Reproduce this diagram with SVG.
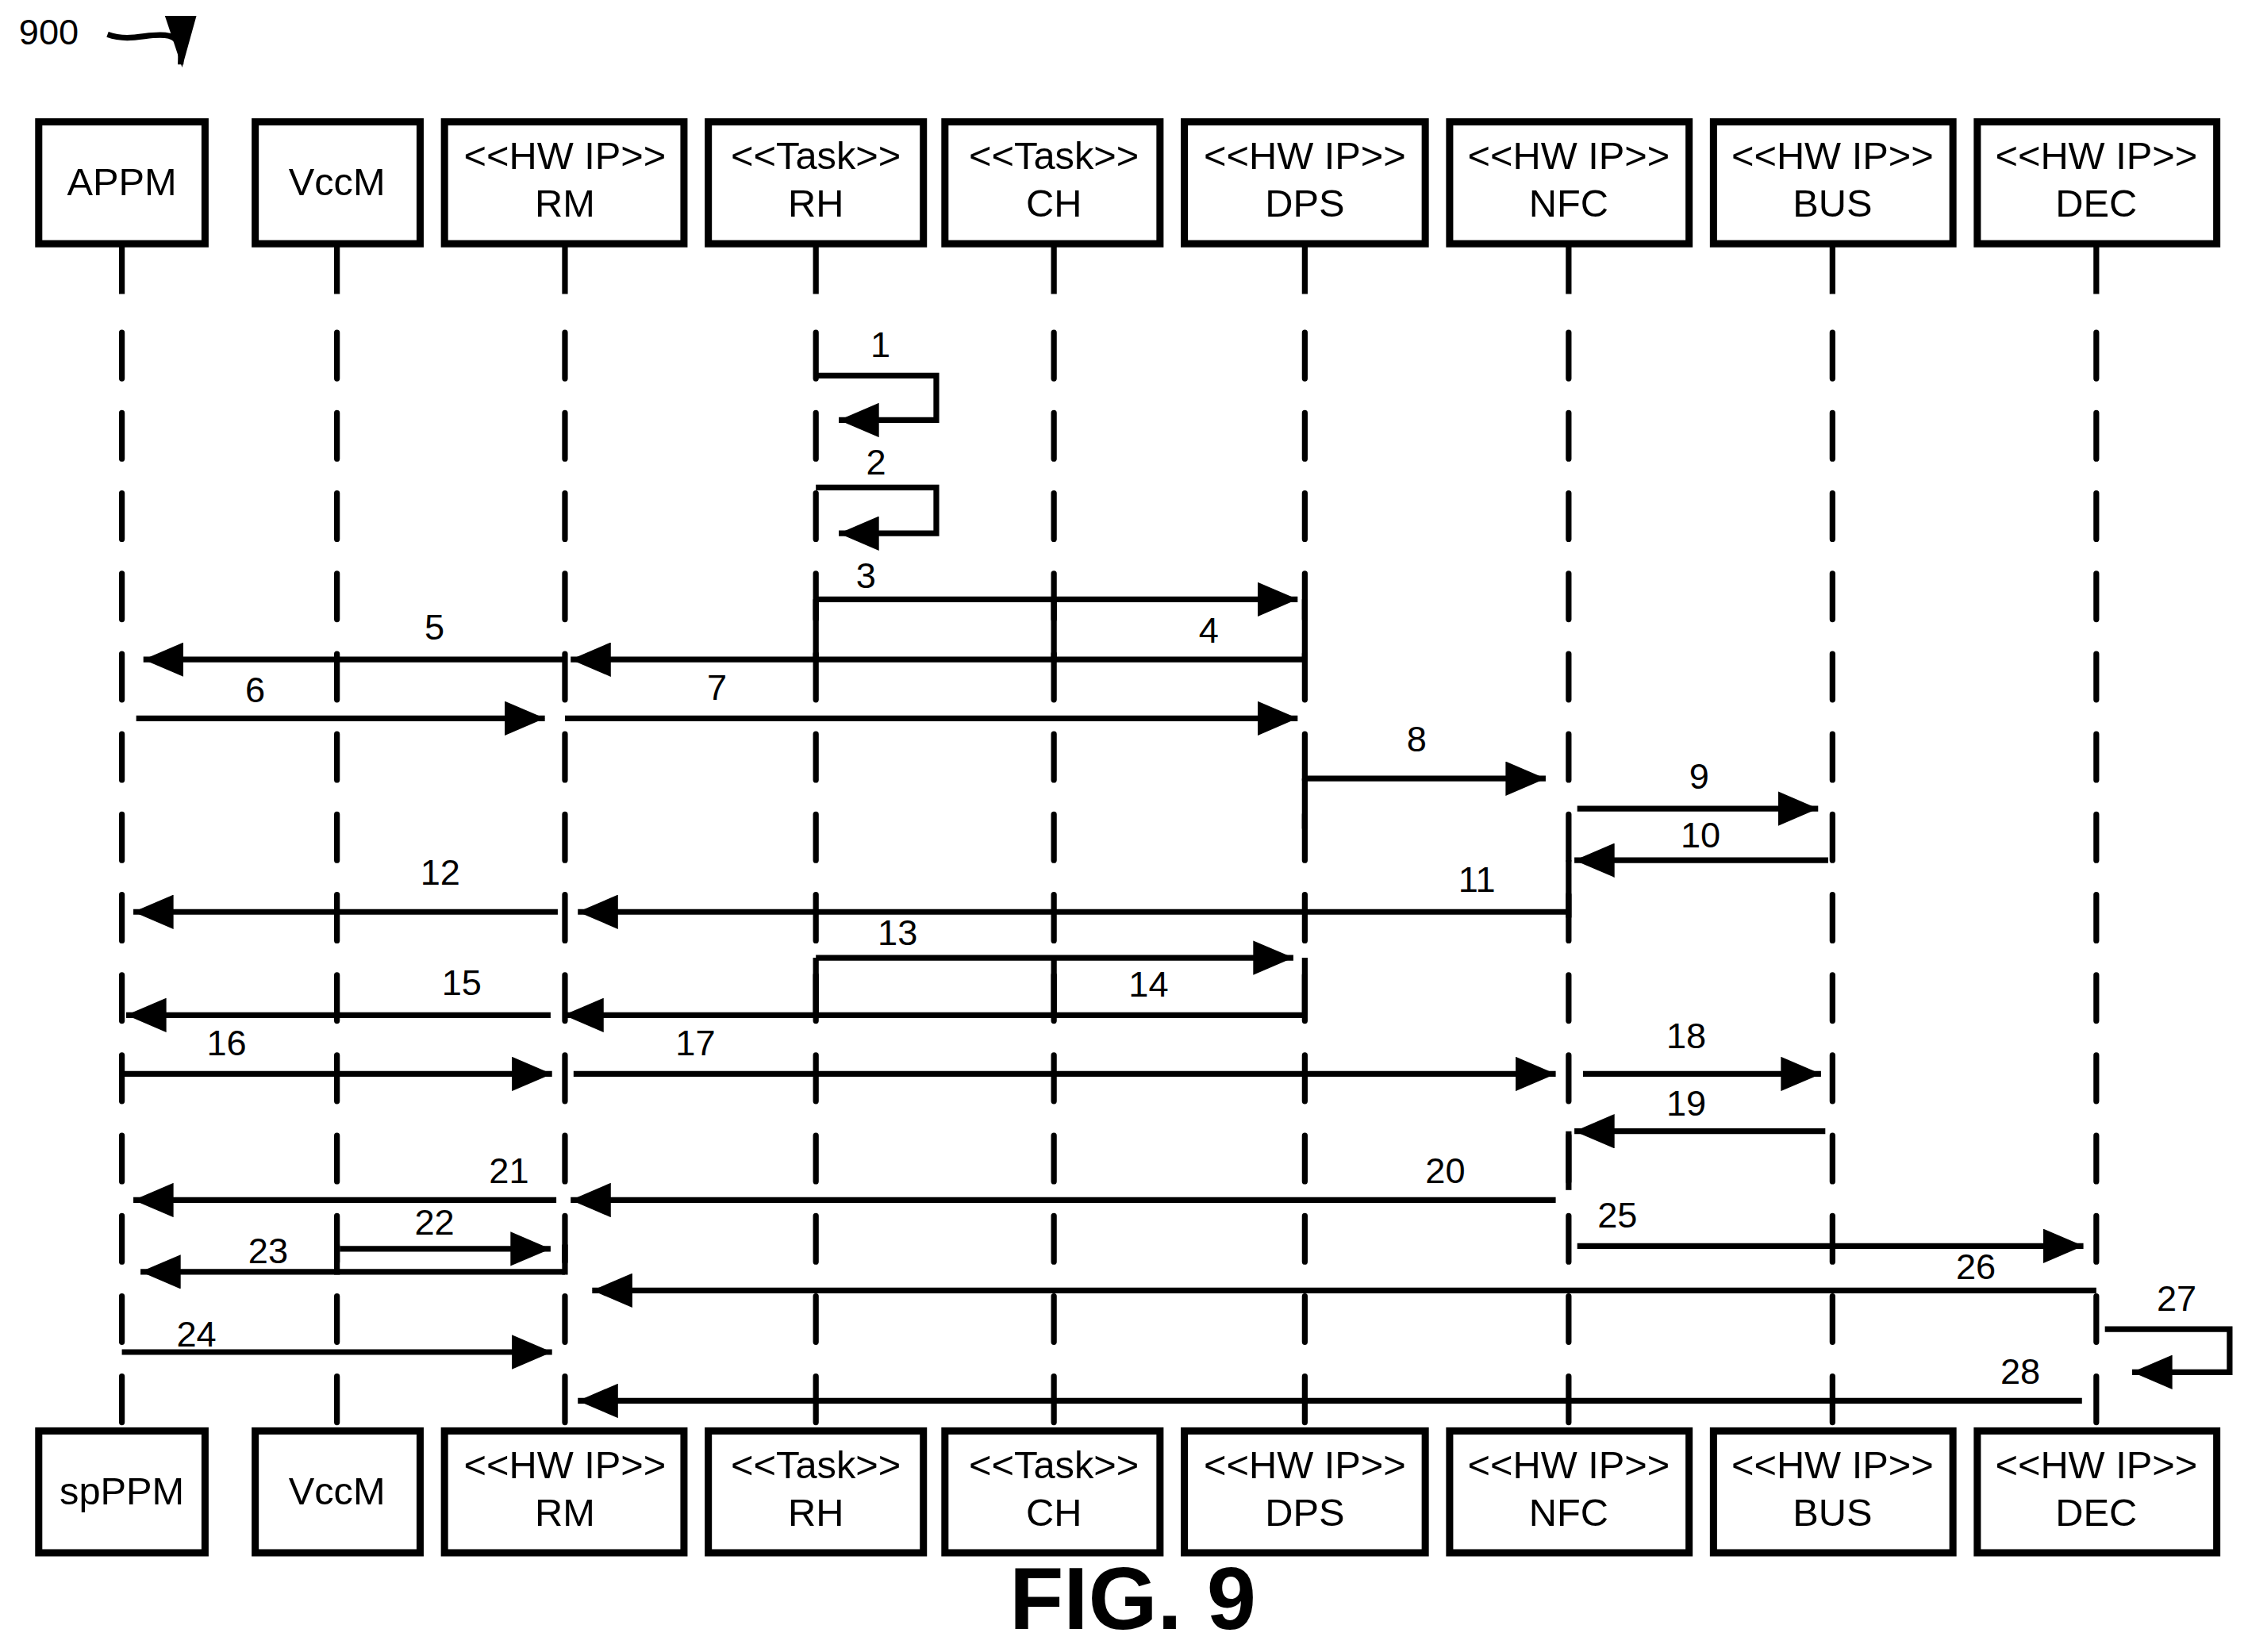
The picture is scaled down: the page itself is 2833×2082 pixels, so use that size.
<svg xmlns="http://www.w3.org/2000/svg" width="2833" height="2082" viewBox="0 0 2833 2082">
<style>
.box{fill:#fff;stroke:#000;stroke-width:5}
.t{font-family:"Liberation Sans",Arial,sans-serif;font-size:27px;text-anchor:middle;fill:#000}
.n{font-family:"Liberation Sans",Arial,sans-serif;font-size:25px;text-anchor:middle;fill:#000}
.ll{stroke:#000;stroke-width:4;fill:none}
.dl{stroke:#000;stroke-width:4;fill:none;stroke-dasharray:32 24;stroke-linecap:round}
.m{stroke:#000;stroke-width:4;fill:none;marker-end:url(#ah)}
.s{stroke:#000;stroke-width:4;fill:none}
</style>
<defs>
<marker id="ah" markerUnits="userSpaceOnUse" markerWidth="30" markerHeight="24" refX="28" refY="12" orient="auto"><path d="M0,0 L28,12 L0,24 Z" fill="#000"/></marker>
<marker id="ah2" markerUnits="userSpaceOnUse" markerWidth="22" markerHeight="36" refX="11" refY="34" orient="0"><path d="M0,0 L22,0 L12,36 Z" fill="#000"/></marker>
</defs>
<rect width="2833" height="2082" fill="#fff"/>
<g transform="scale(1.807)">
<g id="lifelines">
<path class="ll" d="M85,170V205M235,170V205M394,170V205M569,170V205M735,170V205M910,170V205M1094,170V205M1278,170V205M1462,170V205"/>
<path class="dl" d="M85,232V995M235,232V995M394,232V995M569,232V995M735,232V995M910,232V995M1094,232V995M1278,232V995M1462,232V995"/>
</g>
<g id="ref900">
<text x="34" y="31" class="n" style="font-size:25px">900</text>
<path d="M75,24 C92,30 105,22 118,25 C128,28 126,38 126,45" stroke="#000" stroke-width="4" fill="none" marker-end="url(#ah2)"/>
</g>
<g id="n-appm"><rect class="box" x="27" y="85" width="116" height="85"/><text class="t" x="85" y="136">APPM</text></g>
<g id="n-vccm"><rect class="box" x="178" y="85" width="115" height="85"/><text class="t" x="235" y="136">VccM</text></g>
<g id="n-rm"><rect class="box" x="310" y="85" width="167" height="85"/><text class="t" x="394" y="118">&lt;&lt;HW IP&gt;&gt;</text><text class="t" x="394" y="151">RM</text></g>
<g id="n-rh"><rect class="box" x="494" y="85" width="150" height="85"/><text class="t" x="569" y="118">&lt;&lt;Task&gt;&gt;</text><text class="t" x="569" y="151">RH</text></g>
<g id="n-ch"><rect class="box" x="659" y="85" width="150" height="85"/><text class="t" x="735" y="118">&lt;&lt;Task&gt;&gt;</text><text class="t" x="735" y="151">CH</text></g>
<g id="n-dps"><rect class="box" x="826" y="85" width="168" height="85"/><text class="t" x="910" y="118">&lt;&lt;HW IP&gt;&gt;</text><text class="t" x="910" y="151">DPS</text></g>
<g id="n-nfc"><rect class="box" x="1011" y="85" width="167" height="85"/><text class="t" x="1094" y="118">&lt;&lt;HW IP&gt;&gt;</text><text class="t" x="1094" y="151">NFC</text></g>
<g id="n-bus"><rect class="box" x="1195" y="85" width="167" height="85"/><text class="t" x="1278" y="118">&lt;&lt;HW IP&gt;&gt;</text><text class="t" x="1278" y="151">BUS</text></g>
<g id="n-dec"><rect class="box" x="1379" y="85" width="167" height="85"/><text class="t" x="1462" y="118">&lt;&lt;HW IP&gt;&gt;</text><text class="t" x="1462" y="151">DEC</text></g>
<g id="b-sppm"><rect class="box" x="27" y="998" width="116" height="85"/><text class="t" x="85" y="1049">spPPM</text></g>
<g id="b-vccm"><rect class="box" x="178" y="998" width="115" height="85"/><text class="t" x="235" y="1049">VccM</text></g>
<g id="b-rm"><rect class="box" x="310" y="998" width="167" height="85"/><text class="t" x="394" y="1031">&lt;&lt;HW IP&gt;&gt;</text><text class="t" x="394" y="1064">RM</text></g>
<g id="b-rh"><rect class="box" x="494" y="998" width="150" height="85"/><text class="t" x="569" y="1031">&lt;&lt;Task&gt;&gt;</text><text class="t" x="569" y="1064">RH</text></g>
<g id="b-ch"><rect class="box" x="659" y="998" width="150" height="85"/><text class="t" x="735" y="1031">&lt;&lt;Task&gt;&gt;</text><text class="t" x="735" y="1064">CH</text></g>
<g id="b-dps"><rect class="box" x="826" y="998" width="168" height="85"/><text class="t" x="910" y="1031">&lt;&lt;HW IP&gt;&gt;</text><text class="t" x="910" y="1064">DPS</text></g>
<g id="b-nfc"><rect class="box" x="1011" y="998" width="167" height="85"/><text class="t" x="1094" y="1031">&lt;&lt;HW IP&gt;&gt;</text><text class="t" x="1094" y="1064">NFC</text></g>
<g id="b-bus"><rect class="box" x="1195" y="998" width="167" height="85"/><text class="t" x="1278" y="1031">&lt;&lt;HW IP&gt;&gt;</text><text class="t" x="1278" y="1064">BUS</text></g>
<g id="b-dec"><rect class="box" x="1379" y="998" width="167" height="85"/><text class="t" x="1462" y="1031">&lt;&lt;HW IP&gt;&gt;</text><text class="t" x="1462" y="1064">DEC</text></g>
<g id="connectors">
<path class="m" d="M569,262H653V293H585"/>
<path class="m" d="M569,340H653V372H585"/>
<path class="s" d="M569,418V460M735,418V460M910,418V460"/>
<path class="m" d="M569,418H905"/>
<path class="m" d="M910,460H398"/>
<path class="m" d="M394,460H100"/>
<path class="m" d="M95,501H380"/>
<path class="m" d="M394,501H905"/>
<path class="s" d="M910,543V578"/>
<path class="m" d="M910,543H1078"/>
<path class="m" d="M1100,564H1268"/>
<path class="s" d="M1094,600V640"/>
<path class="m" d="M1275,600H1098"/>
<path class="m" d="M1094,636H403"/>
<path class="m" d="M389,636H93"/>
<path class="s" d="M569,668V708M735,668V708M910,668V708"/>
<path class="m" d="M569,668H902"/>
<path class="m" d="M910,708H393"/>
<path class="m" d="M384,708H88"/>
<path class="m" d="M85,749H385"/>
<path class="m" d="M400,749H1085"/>
<path class="m" d="M1104,749H1270"/>
<path class="s" d="M1094,789V830"/>
<path class="m" d="M1273,789H1098"/>
<path class="m" d="M1085,837H398"/>
<path class="m" d="M388,837H93"/>
<path class="m" d="M237,871H384"/>
<path class="s" d="M394,868V889M235,868V889"/>
<path class="m" d="M394,887H98"/>
<path class="m" d="M85,943H385"/>
<path class="m" d="M1100,869H1453"/>
<path class="m" d="M1462,900H413"/>
<path class="m" d="M1468,927H1555V957H1487"/>
<path class="m" d="M1452,977H403"/>
</g>
<g id="labels">
<text class="n" x="614" y="249">1</text>
<text class="n" x="611" y="331">2</text>
<text class="n" x="604" y="410">3</text>
<text class="n" x="843" y="448">4</text>
<text class="n" x="303" y="446">5</text>
<text class="n" x="178" y="490">6</text>
<text class="n" x="500" y="488">7</text>
<text class="n" x="988" y="524">8</text>
<text class="n" x="1185" y="550">9</text>
<text class="n" x="1186" y="591">10</text>
<text class="n" x="1030" y="622">11</text>
<text class="n" x="307" y="617">12</text>
<text class="n" x="626" y="659">13</text>
<text class="n" x="801" y="695">14</text>
<text class="n" x="322" y="694">15</text>
<text class="n" x="158" y="736">16</text>
<text class="n" x="485" y="736">17</text>
<text class="n" x="1176" y="731">18</text>
<text class="n" x="1176" y="778">19</text>
<text class="n" x="1008" y="825">20</text>
<text class="n" x="355" y="825">21</text>
<text class="n" x="303" y="861">22</text>
<text class="n" x="187" y="881">23</text>
<text class="n" x="137" y="939">24</text>
<text class="n" x="1128" y="856">25</text>
<text class="n" x="1378" y="892">26</text>
<text class="n" x="1518" y="914">27</text>
<text class="n" x="1409" y="965">28</text>
</g>
<text x="790" y="1136" style="font-family:'Liberation Sans',Arial,sans-serif;font-size:62px;font-weight:bold;text-anchor:middle">FIG. 9</text>
</g>
</svg>
